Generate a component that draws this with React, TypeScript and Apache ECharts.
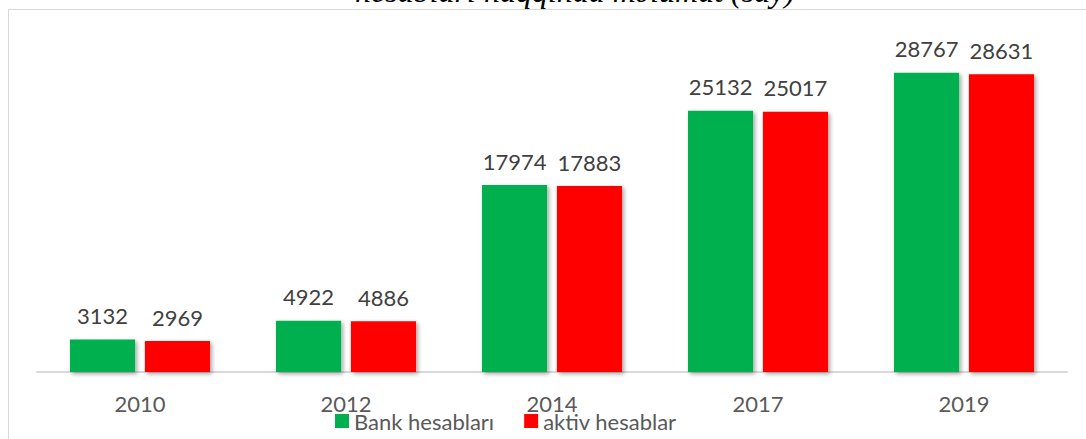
import React, { useEffect, useRef } from "react";
import * as echarts from "echarts";

const years = ["2010", "2012", "2014", "2017", "2019"];
const bankAccounts = [3132, 4922, 17974, 25132, 28767];
const activeAccounts = [2969, 4886, 17883, 25017, 28631];
const seriesNames = ["Bank hesabları", "aktiv hesablar"];
const titleText = "hesabları haqqında məlumat (say)";

const FONT = "Lato, 'Open Sans', sans-serif";

export default function App() {
  const ref = useRef<HTMLDivElement>(null);
  useEffect(() => {
    if (!ref.current) return;
    const chart = echarts.init(ref.current, null, { renderer: "svg" });
    const barShadow = {
      shadowBlur: 4,
      shadowOffsetX: 2,
      shadowOffsetY: 2,
      shadowColor: "rgba(0,0,0,0.35)",
    };
    const label = {
      show: true,
      position: "top" as const,
      distance: 13,
      color: "#404040",
      fontSize: 22,
      fontFamily: FONT,
    };
    chart.setOption({
      animation: false,
      backgroundColor: "#ffffff",
      graphic: [
        {
          type: "rect",
          shape: { x: 8.5, y: 9.5, width: 1200, height: 600 },
          style: { fill: "none", stroke: "#d9d9d9", lineWidth: 1 },
          silent: true,
        },
        {
          type: "text",
          x: 575,
          y: 7,
          style: {
            text: titleText,
            font: "italic 32px 'Liberation Serif', 'Times New Roman', serif",
            fill: "#000000",
            textAlign: "center",
            textVerticalAlign: "bottom",
          },
        },
      ],
      grid: { left: 37, right: 19, top: 60, bottom: 67 },
      legend: {
        bottom: 2,
        left: 330,
        itemWidth: 14,
        itemHeight: 14,
        itemGap: 30,
        icon: "rect",
        textStyle: { color: "#595959", fontSize: 22, fontFamily: FONT },
        data: seriesNames,
      },
      xAxis: {
        type: "category",
        data: years,
        axisLine: { lineStyle: { color: "#d9d9d9", width: 2 } },
        axisTick: { show: false },
        axisLabel: { color: "#595959", fontSize: 22, fontFamily: FONT, margin: 20 },
      },
      yAxis: {
        type: "value",
        min: 0,
        max: 30000,
        show: false,
        splitLine: { show: false },
      },
      series: [
        {
          name: seriesNames[0],
          type: "bar",
          data: bankAccounts,
          barGap: "15%",
          barCategoryGap: "32%",
          itemStyle: { color: "#00b050", ...barShadow },
          label,
        },
        {
          name: seriesNames[1],
          type: "bar",
          data: activeAccounts,
          barGap: "15%",
          barCategoryGap: "32%",
          itemStyle: { color: "#ff0000", ...barShadow },
          label,
        },
      ],
    });
    return () => chart.dispose();
  }, []);
  return (
    <div
      ref={ref}
      style={{ position: "absolute", left: 0, top: 0, width: 1086, height: 439 }}
    />
  );
}
